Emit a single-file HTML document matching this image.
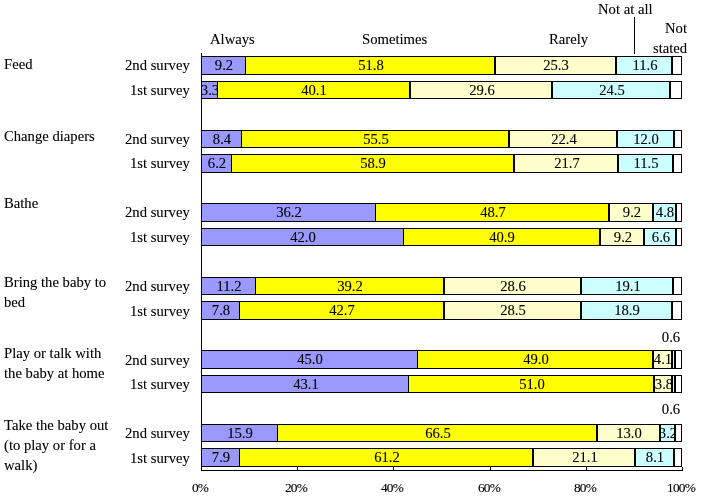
<!DOCTYPE html>
<html><head><meta charset="utf-8"><style>
html,body{margin:0;padding:0;background:#fff;width:702px;height:498px;overflow:hidden;position:relative}
.t{position:absolute;font-family:'Liberation Serif', serif;font-size:14.67px;line-height:16px;white-space:nowrap;color:#000;will-change:transform}
.c{text-align:center}
.cl{position:absolute;overflow:hidden}
.ax{font-size:13.33px;letter-spacing:-0.8px}
.s{position:absolute;box-sizing:border-box;border:1px solid #000}
.k{position:absolute;background:#000}
#tx{position:absolute;left:0;top:0;width:702px;height:498px}
</style></head><body>
<svg width='0' height='0' style='position:absolute'><filter id='crisp' x='0' y='0' width='100%' height='100%' color-interpolation-filters='sRGB'><feComponentTransfer><feFuncA type='gamma' amplitude='1' exponent='0.8' offset='0'/></feComponentTransfer></filter></svg>
<div class='s' style='left:201px;top:56px;width:45px;height:19px;background:#9999FF'></div>
<div class='s' style='left:245px;top:56px;width:250px;height:19px;background:#FFFF00'></div>
<div class='s' style='left:495px;top:56px;width:121px;height:19px;background:#FFFFCC'></div>
<div class='s' style='left:616px;top:56px;width:56px;height:19px;background:#CCFFFF'></div>
<div class='s' style='left:672px;top:56px;width:10px;height:19px;background:#FFFFFF'></div>
<div class='s' style='left:201px;top:81px;width:17px;height:18px;background:#9999FF'></div>
<div class='s' style='left:217px;top:81px;width:193px;height:18px;background:#FFFF00'></div>
<div class='s' style='left:410px;top:81px;width:142px;height:18px;background:#FFFFCC'></div>
<div class='s' style='left:552px;top:81px;width:118px;height:18px;background:#CCFFFF'></div>
<div class='s' style='left:670px;top:81px;width:12px;height:18px;background:#FFFFFF'></div>
<div class='s' style='left:201px;top:130px;width:41px;height:18px;background:#9999FF'></div>
<div class='s' style='left:241px;top:130px;width:268px;height:18px;background:#FFFF00'></div>
<div class='s' style='left:509px;top:130px;width:108px;height:18px;background:#FFFFCC'></div>
<div class='s' style='left:617px;top:130px;width:57px;height:18px;background:#CCFFFF'></div>
<div class='s' style='left:674px;top:130px;width:8px;height:18px;background:#FFFFFF'></div>
<div class='s' style='left:201px;top:154px;width:31px;height:19px;background:#9999FF'></div>
<div class='s' style='left:231px;top:154px;width:283px;height:19px;background:#FFFF00'></div>
<div class='s' style='left:514px;top:154px;width:104px;height:19px;background:#FFFFCC'></div>
<div class='s' style='left:618px;top:154px;width:55px;height:19px;background:#CCFFFF'></div>
<div class='s' style='left:673px;top:154px;width:9px;height:19px;background:#FFFFFF'></div>
<div class='s' style='left:201px;top:203px;width:175px;height:19px;background:#9999FF'></div>
<div class='s' style='left:375px;top:203px;width:234px;height:19px;background:#FFFF00'></div>
<div class='s' style='left:609px;top:203px;width:44px;height:19px;background:#FFFFCC'></div>
<div class='s' style='left:653px;top:203px;width:23px;height:19px;background:#CCFFFF'></div>
<div class='s' style='left:676px;top:203px;width:6px;height:19px;background:#FFFFFF'></div>
<div class='s' style='left:201px;top:228px;width:203px;height:18px;background:#9999FF'></div>
<div class='s' style='left:403px;top:228px;width:197px;height:18px;background:#FFFF00'></div>
<div class='s' style='left:600px;top:228px;width:44px;height:18px;background:#FFFFCC'></div>
<div class='s' style='left:644px;top:228px;width:32px;height:18px;background:#CCFFFF'></div>
<div class='s' style='left:676px;top:228px;width:6px;height:18px;background:#FFFFFF'></div>
<div class='s' style='left:201px;top:277px;width:55px;height:18px;background:#9999FF'></div>
<div class='s' style='left:255px;top:277px;width:189px;height:18px;background:#FFFF00'></div>
<div class='s' style='left:444px;top:277px;width:137px;height:18px;background:#FFFFCC'></div>
<div class='s' style='left:581px;top:277px;width:92px;height:18px;background:#CCFFFF'></div>
<div class='s' style='left:673px;top:277px;width:9px;height:18px;background:#FFFFFF'></div>
<div class='s' style='left:201px;top:301px;width:39px;height:19px;background:#9999FF'></div>
<div class='s' style='left:239px;top:301px;width:205px;height:19px;background:#FFFF00'></div>
<div class='s' style='left:444px;top:301px;width:137px;height:19px;background:#FFFFCC'></div>
<div class='s' style='left:581px;top:301px;width:91px;height:19px;background:#CCFFFF'></div>
<div class='s' style='left:672px;top:301px;width:10px;height:19px;background:#FFFFFF'></div>
<div class='s' style='left:201px;top:350px;width:217px;height:19px;background:#9999FF'></div>
<div class='s' style='left:417px;top:350px;width:236px;height:19px;background:#FFFF00'></div>
<div class='s' style='left:653px;top:350px;width:19px;height:19px;background:#FFFFCC'></div>
<div class='s' style='left:672px;top:350px;width:3px;height:19px;background:#CCFFFF'></div>
<div class='s' style='left:675px;top:350px;width:7px;height:19px;background:#FFFFFF'></div>
<div class='s' style='left:201px;top:375px;width:208px;height:18px;background:#9999FF'></div>
<div class='s' style='left:408px;top:375px;width:246px;height:18px;background:#FFFF00'></div>
<div class='s' style='left:654px;top:375px;width:18px;height:18px;background:#FFFFCC'></div>
<div class='s' style='left:672px;top:375px;width:3px;height:18px;background:#CCFFFF'></div>
<div class='s' style='left:675px;top:375px;width:7px;height:18px;background:#FFFFFF'></div>
<div class='s' style='left:201px;top:424px;width:77px;height:18px;background:#9999FF'></div>
<div class='s' style='left:277px;top:424px;width:320px;height:18px;background:#FFFF00'></div>
<div class='s' style='left:597px;top:424px;width:63px;height:18px;background:#FFFFCC'></div>
<div class='s' style='left:660px;top:424px;width:15px;height:18px;background:#CCFFFF'></div>
<div class='s' style='left:675px;top:424px;width:7px;height:18px;background:#FFFFFF'></div>
<div class='s' style='left:201px;top:448px;width:39px;height:19px;background:#9999FF'></div>
<div class='s' style='left:239px;top:448px;width:294px;height:19px;background:#FFFF00'></div>
<div class='s' style='left:533px;top:448px;width:102px;height:19px;background:#FFFFCC'></div>
<div class='s' style='left:635px;top:448px;width:39px;height:19px;background:#CCFFFF'></div>
<div class='s' style='left:674px;top:448px;width:8px;height:19px;background:#FFFFFF'></div>

<div class='k' style='left:201px;top:53px;width:1px;height:418px'></div>
<div class='k' style='left:201px;top:470px;width:482px;height:1px'></div>
<div class='k' style='left:201px;top:467px;width:1px;height:4px'></div>
<div class='k' style='left:297px;top:467px;width:1px;height:4px'></div>
<div class='k' style='left:393px;top:467px;width:1px;height:4px'></div>
<div class='k' style='left:490px;top:467px;width:1px;height:4px'></div>
<div class='k' style='left:586px;top:467px;width:1px;height:4px'></div>
<div class='k' style='left:682px;top:467px;width:1px;height:4px'></div>
<div class='k' style='left:634px;top:17px;width:1px;height:37px'></div>
<div id='tx' style='filter:url(#crisp)'>
<div class='cl' style='left:202px;top:57px;width:43px;height:17px'><div class='t c' style='left:-28.00px;width:100px;top:0px'>9.2</div></div>
<div class='cl' style='left:246px;top:57px;width:248px;height:17px'><div class='t c' style='left:74.50px;width:100px;top:0px'>51.8</div></div>
<div class='cl' style='left:496px;top:57px;width:119px;height:17px'><div class='t c' style='left:10.00px;width:100px;top:0px'>25.3</div></div>
<div class='cl' style='left:617px;top:57px;width:54px;height:17px'><div class='t c' style='left:-22.50px;width:100px;top:0px'>11.6</div></div>
<div class='cl' style='left:202px;top:82px;width:15px;height:16px'><div class='t c' style='left:-42.00px;width:100px;top:0px'>3.3</div></div>
<div class='cl' style='left:218px;top:82px;width:191px;height:16px'><div class='t c' style='left:46.00px;width:100px;top:0px'>40.1</div></div>
<div class='cl' style='left:411px;top:82px;width:140px;height:16px'><div class='t c' style='left:20.50px;width:100px;top:0px'>29.6</div></div>
<div class='cl' style='left:553px;top:82px;width:116px;height:16px'><div class='t c' style='left:8.50px;width:100px;top:0px'>24.5</div></div>
<div class='cl' style='left:202px;top:131px;width:39px;height:16px'><div class='t c' style='left:-30.00px;width:100px;top:0px'>8.4</div></div>
<div class='cl' style='left:242px;top:131px;width:266px;height:16px'><div class='t c' style='left:83.50px;width:100px;top:0px'>55.5</div></div>
<div class='cl' style='left:510px;top:131px;width:106px;height:16px'><div class='t c' style='left:3.50px;width:100px;top:0px'>22.4</div></div>
<div class='cl' style='left:618px;top:131px;width:55px;height:16px'><div class='t c' style='left:-22.00px;width:100px;top:0px'>12.0</div></div>
<div class='cl' style='left:202px;top:155px;width:29px;height:17px'><div class='t c' style='left:-35.00px;width:100px;top:0px'>6.2</div></div>
<div class='cl' style='left:232px;top:155px;width:281px;height:17px'><div class='t c' style='left:91.00px;width:100px;top:0px'>58.9</div></div>
<div class='cl' style='left:515px;top:155px;width:102px;height:17px'><div class='t c' style='left:1.50px;width:100px;top:0px'>21.7</div></div>
<div class='cl' style='left:619px;top:155px;width:53px;height:17px'><div class='t c' style='left:-23.00px;width:100px;top:0px'>11.5</div></div>
<div class='cl' style='left:202px;top:204px;width:173px;height:17px'><div class='t c' style='left:37.00px;width:100px;top:0px'>36.2</div></div>
<div class='cl' style='left:376px;top:204px;width:232px;height:17px'><div class='t c' style='left:66.50px;width:100px;top:0px'>48.7</div></div>
<div class='cl' style='left:610px;top:204px;width:42px;height:17px'><div class='t c' style='left:-28.50px;width:100px;top:0px'>9.2</div></div>
<div class='cl' style='left:654px;top:204px;width:21px;height:17px'><div class='t c' style='left:-39.00px;width:100px;top:0px'>4.8</div></div>
<div class='cl' style='left:202px;top:229px;width:201px;height:16px'><div class='t c' style='left:51.00px;width:100px;top:0px'>42.0</div></div>
<div class='cl' style='left:404px;top:229px;width:195px;height:16px'><div class='t c' style='left:48.00px;width:100px;top:0px'>40.9</div></div>
<div class='cl' style='left:601px;top:229px;width:42px;height:16px'><div class='t c' style='left:-28.50px;width:100px;top:0px'>9.2</div></div>
<div class='cl' style='left:645px;top:229px;width:30px;height:16px'><div class='t c' style='left:-34.50px;width:100px;top:0px'>6.6</div></div>
<div class='cl' style='left:202px;top:278px;width:53px;height:16px'><div class='t c' style='left:-23.00px;width:100px;top:0px'>11.2</div></div>
<div class='cl' style='left:256px;top:278px;width:187px;height:16px'><div class='t c' style='left:44.00px;width:100px;top:0px'>39.2</div></div>
<div class='cl' style='left:445px;top:278px;width:135px;height:16px'><div class='t c' style='left:18.00px;width:100px;top:0px'>28.6</div></div>
<div class='cl' style='left:582px;top:278px;width:90px;height:16px'><div class='t c' style='left:-4.50px;width:100px;top:0px'>19.1</div></div>
<div class='cl' style='left:202px;top:302px;width:37px;height:17px'><div class='t c' style='left:-31.00px;width:100px;top:0px'>7.8</div></div>
<div class='cl' style='left:240px;top:302px;width:203px;height:17px'><div class='t c' style='left:52.00px;width:100px;top:0px'>42.7</div></div>
<div class='cl' style='left:445px;top:302px;width:135px;height:17px'><div class='t c' style='left:18.00px;width:100px;top:0px'>28.5</div></div>
<div class='cl' style='left:582px;top:302px;width:89px;height:17px'><div class='t c' style='left:-5.00px;width:100px;top:0px'>18.9</div></div>
<div class='cl' style='left:202px;top:351px;width:215px;height:17px'><div class='t c' style='left:58.00px;width:100px;top:0px'>45.0</div></div>
<div class='cl' style='left:418px;top:351px;width:234px;height:17px'><div class='t c' style='left:67.50px;width:100px;top:0px'>49.0</div></div>
<div class='cl' style='left:654px;top:351px;width:17px;height:17px'><div class='t c' style='left:-41.00px;width:100px;top:0px'>4.1</div></div>
<div class='cl' style='left:202px;top:376px;width:206px;height:16px'><div class='t c' style='left:53.50px;width:100px;top:0px'>43.1</div></div>
<div class='cl' style='left:409px;top:376px;width:244px;height:16px'><div class='t c' style='left:72.50px;width:100px;top:0px'>51.0</div></div>
<div class='cl' style='left:655px;top:376px;width:16px;height:16px'><div class='t c' style='left:-41.50px;width:100px;top:0px'>3.8</div></div>
<div class='cl' style='left:202px;top:425px;width:75px;height:16px'><div class='t c' style='left:-12.00px;width:100px;top:0px'>15.9</div></div>
<div class='cl' style='left:278px;top:425px;width:318px;height:16px'><div class='t c' style='left:109.50px;width:100px;top:0px'>66.5</div></div>
<div class='cl' style='left:598px;top:425px;width:61px;height:16px'><div class='t c' style='left:-19.00px;width:100px;top:0px'>13.0</div></div>
<div class='cl' style='left:661px;top:425px;width:13px;height:16px'><div class='t c' style='left:-43.00px;width:100px;top:0px'>3.2</div></div>
<div class='cl' style='left:202px;top:449px;width:37px;height:17px'><div class='t c' style='left:-31.00px;width:100px;top:0px'>7.9</div></div>
<div class='cl' style='left:240px;top:449px;width:292px;height:17px'><div class='t c' style='left:96.50px;width:100px;top:0px'>61.2</div></div>
<div class='cl' style='left:534px;top:449px;width:100px;height:17px'><div class='t c' style='left:0.50px;width:100px;top:0px'>21.1</div></div>
<div class='cl' style='left:636px;top:449px;width:37px;height:17px'><div class='t c' style='left:-31.00px;width:100px;top:0px'>8.1</div></div>
<div class='t' style='right:512px;top:57px;text-align:right'>2nd survey</div>
<div class='t' style='right:512px;top:82px;text-align:right'>1st survey</div>
<div class='t' style='right:512px;top:131px;text-align:right'>2nd survey</div>
<div class='t' style='right:512px;top:155px;text-align:right'>1st survey</div>
<div class='t' style='right:512px;top:204px;text-align:right'>2nd survey</div>
<div class='t' style='right:512px;top:229px;text-align:right'>1st survey</div>
<div class='t' style='right:512px;top:278px;text-align:right'>2nd survey</div>
<div class='t' style='right:512px;top:303px;text-align:right'>1st survey</div>
<div class='t' style='right:512px;top:352px;text-align:right'>2nd survey</div>
<div class='t' style='right:512px;top:376px;text-align:right'>1st survey</div>
<div class='t' style='right:512px;top:425px;text-align:right'>2nd survey</div>
<div class='t' style='right:512px;top:450px;text-align:right'>1st survey</div>
<div class='t' style='left:4px;top:56px'>Feed</div>
<div class='t' style='left:4px;top:128px'>Change diapers</div>
<div class='t' style='left:4px;top:195px'>Bathe</div>
<div class='t' style='left:4px;top:274px'>Bring the baby to</div>
<div class='t' style='left:4px;top:294px'>bed</div>
<div class='t' style='left:4px;top:345px'>Play or talk with</div>
<div class='t' style='left:4px;top:365px'>the baby at home</div>
<div class='t' style='left:4px;top:417px'>Take the baby out</div>
<div class='t' style='left:4px;top:437px'>(to play or for a</div>
<div class='t' style='left:4px;top:457px'>walk)</div>
<div class='t' style='left:210px;top:31px'>Always</div>
<div class='t' style='left:362px;top:31px'>Sometimes</div>
<div class='t' style='left:549px;top:31px'>Rarely</div>
<div class='t' style='left:598px;top:1px'>Not at all</div>
<div class='t' style='right:15px;top:20px;text-align:right'>Not</div>
<div class='t' style='right:15px;top:40px;text-align:right'>stated</div>
<div class='t c' style='left:620.5px;width:100px;top:329px'>0.6</div>
<div class='t c' style='left:620.5px;width:100px;top:401px'>0.6</div>

<div class='t c ax' style='left:150px;width:100px;top:480px'>0%</div>
<div class='t c ax' style='left:246px;width:100px;top:480px'>20%</div>
<div class='t c ax' style='left:342px;width:100px;top:480px'>40%</div>
<div class='t c ax' style='left:439px;width:100px;top:480px'>60%</div>
<div class='t c ax' style='left:535px;width:100px;top:480px'>80%</div>
<div class='t c ax' style='left:631px;width:100px;top:480px'>100%</div>
</div>
</body></html>
